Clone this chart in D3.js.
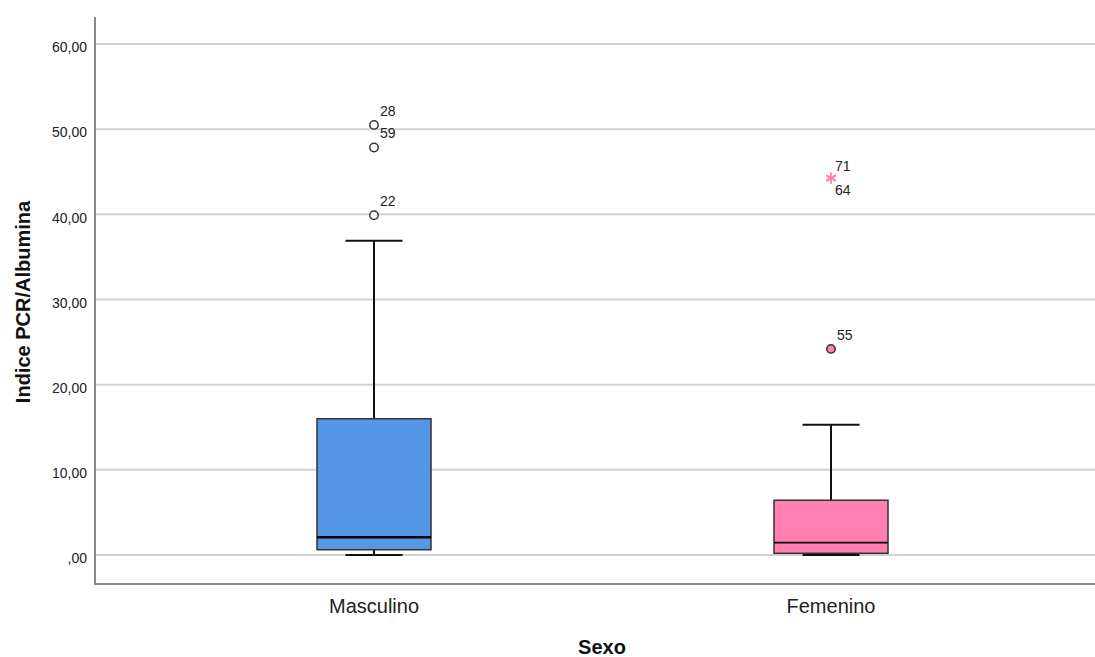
<!DOCTYPE html>
<html>
<head>
<meta charset="utf-8">
<script src="https://cdn.jsdelivr.net/npm/d3@7"></script>
<style>
  body { margin: 0; background: #fff; }
  text { font-family: "Liberation Sans", Arial, sans-serif; }
</style>
</head>
<body>
<svg id="chart" width="1095" height="657"></svg>
<script>
// categories and box statistics
const categories = ["Masculino", "Femenino"]
const colors = ["#5596e6", "#ff80b0"]
const whiskerLow = [0.0, 0.0]
const q1 = [0.62, 0.2]
const median = [2.08, 1.45]
const q3 = [16.0, 6.43]
const whiskerHigh = [36.9, 15.3]

// outliers: [category index, case id, value, kind]
const outliers = [
  [0, "28", 50.5, "o"],
  [0, "59", 47.85, "o"],
  [0, "22", 39.9, "o"],
  [1, "71", 44.3, "*"],
  [1, "64", 44.2, "*"],
  [1, "55", 24.2, "o"]
]

const yTicks = [0, 10, 20, 30, 40, 50, 60]

const svg = d3.select('#chart')
const plotLeft = 95, plotRight = 1095, plotTop = 17, plotBottom = 584

const y = d3.scaleLinear().domain([0, 60]).range([555, 44])
const x = d3.scalePoint().domain(categories).range([374, 831])
const boxW = 114

const fmt = v => v === 0 ? ',00' : d3.format('.2f')(v).replace('.', ',')

// gridlines
svg.append('g').selectAll('line').data(yTicks).join('line')
  .attr('x1', plotLeft).attr('x2', plotRight)
  .attr('y1', d => y(d)).attr('y2', d => y(d))
  .attr('stroke', '#d2d2d2').attr('stroke-width', 2)

// y axis
const yAxis = svg.append('g')
  .attr('transform', `translate(${plotLeft},0)`)
  .call(d3.axisLeft(y).tickValues(yTicks).tickFormat(fmt).tickSize(0).tickPadding(8))
yAxis.select('.domain').remove()
yAxis.selectAll('text').attr('font-size', 14).attr('fill', '#222')
  .attr('dy', '0.55em')
  .attr('font-family', '"Liberation Sans", Arial, sans-serif')

// axis lines
svg.append('line').attr('x1', plotLeft).attr('x2', plotLeft).attr('y1', plotTop).attr('y2', plotBottom)
  .attr('stroke', '#888').attr('stroke-width', 2)
svg.append('line').attr('x1', plotLeft - 1).attr('x2', plotRight).attr('y1', plotBottom).attr('y2', plotBottom)
  .attr('stroke', '#888').attr('stroke-width', 2)

// x axis labels
svg.append('g').selectAll('text').data(categories).join('text')
  .attr('x', d => x(d))
  .attr('y', 613)
  .attr('text-anchor', 'middle')
  .attr('font-size', 20)
  .attr('fill', '#222')
  .text(d => d)

// axis titles
svg.append('text')
  .attr('x', 602).attr('y', 654)
  .attr('text-anchor', 'middle')
  .attr('font-size', 20).attr('font-weight', 'bold').attr('fill', '#111')
  .text('Sexo')
svg.append('text')
  .attr('transform', 'translate(30,302) rotate(-90)')
  .attr('text-anchor', 'middle')
  .attr('font-size', 20).attr('font-weight', 'bold').attr('fill', '#111')
  .text('Indice PCR/Albumina')

// boxes
categories.forEach((c, i) => {
  const cx = x(c)
  const g = svg.append('g')
  // whiskers
  g.append('line').attr('x1', cx).attr('x2', cx)
    .attr('y1', y(q3[i])).attr('y2', y(whiskerHigh[i]))
    .attr('stroke', '#111').attr('stroke-width', 2)
  g.append('line').attr('x1', cx).attr('x2', cx)
    .attr('y1', y(q1[i])).attr('y2', y(whiskerLow[i]))
    .attr('stroke', '#111').attr('stroke-width', 2)
  g.append('line').attr('x1', cx - boxW / 4).attr('x2', cx + boxW / 4)
    .attr('y1', y(whiskerHigh[i])).attr('y2', y(whiskerHigh[i]))
    .attr('stroke', '#111').attr('stroke-width', 2)
  g.append('line').attr('x1', cx - boxW / 4).attr('x2', cx + boxW / 4)
    .attr('y1', y(whiskerLow[i])).attr('y2', y(whiskerLow[i]))
    .attr('stroke', '#111').attr('stroke-width', 2)
  // box
  g.append('rect')
    .attr('x', cx - boxW / 2).attr('width', boxW)
    .attr('y', y(q3[i])).attr('height', y(q1[i]) - y(q3[i]))
    .attr('fill', colors[i]).attr('stroke', '#333').attr('stroke-width', 1.5)
  g.append('line').attr('x1', cx - boxW / 2).attr('x2', cx + boxW / 2)
    .attr('y1', y(median[i])).attr('y2', y(median[i]))
    .attr('stroke', '#000').attr('stroke-width', i === 0 ? 2.5 : 1.8)
})

// outliers
const og = svg.append('g')
const star = d3.symbol().type(d3.symbolAsterisk).size(85)
outliers.forEach((o, k) => {
  const [ci, id, v, kind] = o
  const cx = x(categories[ci])
  const cy = y(v)
  if (kind === 'o') {
    og.append('circle').attr('cx', cx).attr('cy', cy).attr('r', 4.2)
      .attr('fill', ci === 0 ? '#fff' : colors[ci])
      .attr('stroke', '#333').attr('stroke-width', 1.5)
  } else {
    og.append('path').attr('d', star)
      .attr('transform', `translate(${cx},${cy})`)
      .attr('fill', 'none').attr('stroke', colors[ci]).attr('stroke-width', 1.4)
  }
  // label goes below when the previous outlier sits almost at the same value
  const prev = outliers[k - 1]
  const below = prev && prev[0] === ci && Math.abs(prev[2] - v) < 1
  og.append('text')
    .attr('x', cx + (kind === 'o' ? 6 : 4)).attr('y', below ? cy + 16 : cy - (kind === 'o' ? 9 : 7))
    .attr('font-size', 14).attr('fill', '#222')
    .text(id)
})
</script>
</body>
</html>
